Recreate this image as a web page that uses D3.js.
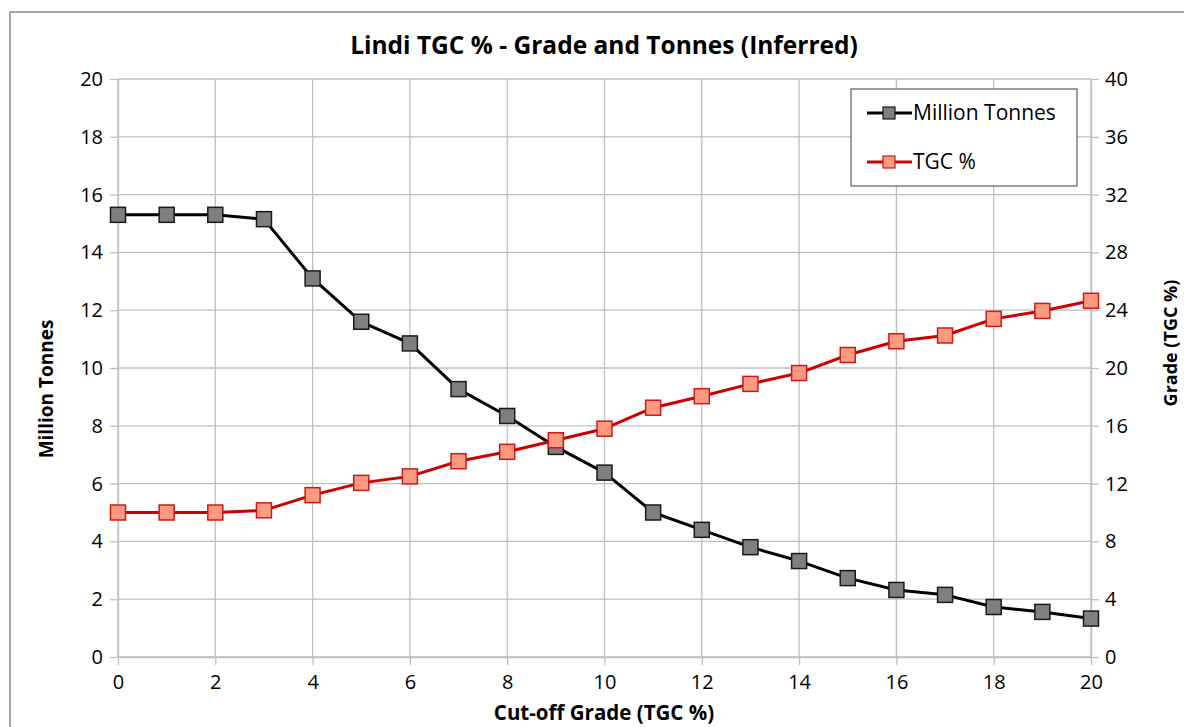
<!DOCTYPE html>
<html>
<head>
<meta charset="utf-8">
<script src="https://cdn.jsdelivr.net/npm/d3@7"></script>
<style>
  body { margin: 0; background: #fff; }
  text { font-family: "Open Sans", sans-serif; fill: #000; }
</style>
</head>
<body>
<script>
var w = 1184;
var h = 727;

// cut-off grade steps
var cutoffs = [0, 1, 2, 3, 4, 5, 6, 7, 8, 9, 10, 11, 12, 13, 14, 15, 16, 17, 18, 19, 20];
var millionTonnes = [15.3, 15.3, 15.3, 15.15, 13.1, 11.6, 10.85, 9.27, 8.34, 7.27, 6.38,
                     5.0, 4.4, 3.8, 3.32, 2.73, 2.32, 2.15, 1.73, 1.56, 1.33];
var gradeTGC = [10.0, 10.0, 10.0, 10.15, 11.2, 12.05, 12.5, 13.55, 14.2, 15.0, 15.8,
                17.25, 18.05, 18.9, 19.65, 20.9, 21.85, 22.25, 23.4, 23.95, 24.65];
var xTicks = [0, 2, 4, 6, 8, 10, 12, 14, 16, 18, 20];
var leftTicks = [0, 2, 4, 6, 8, 10, 12, 14, 16, 18, 20];
var rightTicks = [0, 4, 8, 12, 16, 20, 24, 28, 32, 36, 40];

var plotL = 118, plotR = 1091, plotT = 79, plotB = 657;

var svg = d3.select("body").append("svg")
    .attr("width", w)
    .attr("height", h);

// chart frame (cropped at right and bottom in the original)
svg.append("rect")
    .attr("x", 10).attr("y", 12)
    .attr("width", 1200).attr("height", 800)
    .attr("fill", "none")
    .attr("stroke", "#888")
    .attr("stroke-width", 1.5);

var x = d3.scaleLinear().domain([0, 20]).range([plotL, plotR]);
var yL = d3.scaleLinear().domain([0, 20]).range([plotB, plotT]);
var yR = d3.scaleLinear().domain([0, 40]).range([plotB, plotT]);

// gridlines
svg.append("g").selectAll("line")
    .data(xTicks).enter().append("line")
    .attr("x1", function(d){ return x(d); }).attr("x2", function(d){ return x(d); })
    .attr("y1", plotT).attr("y2", plotB)
    .attr("stroke", "#bfbfbf").attr("stroke-width", 1.3);
svg.append("g").selectAll("line")
    .data(leftTicks).enter().append("line")
    .attr("y1", function(d){ return yL(d); }).attr("y2", function(d){ return yL(d); })
    .attr("x1", plotL).attr("x2", plotR)
    .attr("stroke", "#bfbfbf").attr("stroke-width", 1.3);

function styleAxis(g) {
  g.select(".domain").attr("stroke", "#bfbfbf").attr("stroke-width", 1.3);
  g.selectAll(".tick line").attr("stroke", "#bfbfbf").attr("stroke-width", 1.3);
  g.selectAll(".tick text").style("font-size", "20px").attr("fill", "#1a1a1a");
}

svg.append("g")
    .attr("transform", "translate(0," + plotB + ")")
    .call(d3.axisBottom(x).tickValues(xTicks).tickSize(8).tickSizeOuter(0).tickPadding(10))
    .call(styleAxis);
svg.append("g")
    .attr("transform", "translate(" + plotL + ",0)")
    .call(d3.axisLeft(yL).tickValues(leftTicks).tickSize(8).tickSizeOuter(0).tickPadding(7))
    .call(styleAxis);
svg.append("g")
    .attr("transform", "translate(" + plotR + ",0)")
    .call(d3.axisRight(yR).tickValues(rightTicks).tickSize(8).tickSizeOuter(0).tickPadding(6))
    .call(styleAxis);

// series
function drawSeries(vals, yScale, lineColor, fill, stroke) {
  var line = d3.line()
      .x(function(d, i){ return x(cutoffs[i]); })
      .y(function(d){ return yScale(d); });
  svg.append("path")
      .datum(vals)
      .attr("d", line)
      .attr("fill", "none")
      .attr("stroke", lineColor)
      .attr("stroke-width", 3)
      .attr("stroke-linejoin", "round");
  svg.append("g").selectAll("rect")
      .data(vals).enter().append("rect")
      .attr("x", function(d, i){ return x(cutoffs[i]) - 7.5; })
      .attr("y", function(d){ return yScale(d) - 7.5; })
      .attr("width", 15).attr("height", 15)
      .attr("fill", fill)
      .attr("stroke", stroke)
      .attr("stroke-width", 1.5);
}
drawSeries(millionTonnes, yL, "#000", "#7f7f7f", "#1a1a1a");
drawSeries(gradeTGC, yR, "#cc0000", "#ff9a80", "#cc1a1a");

// title and axis titles
svg.append("text")
    .attr("x", 604).attr("y", 54)
    .attr("text-anchor", "middle")
    .style("font-size", "24.5px").style("font-weight", "bold")
    .text("Lindi TGC % - Grade and Tonnes (Inferred)");
svg.append("text")
    .attr("transform", "translate(53,389) rotate(-90)")
    .attr("text-anchor", "middle")
    .style("font-size", "19px").style("font-weight", "bold")
    .text("Million Tonnes");
svg.append("text")
    .attr("transform", "translate(1177,343) rotate(-90)")
    .attr("text-anchor", "middle")
    .style("font-size", "18px").style("font-weight", "bold")
    .text("Grade (TGC %)");
svg.append("text")
    .attr("x", 604).attr("y", 720)
    .attr("text-anchor", "middle")
    .style("font-size", "20.5px").style("font-weight", "bold")
    .text("Cut-off Grade (TGC %)");

// legend
var legend = svg.append("g");
legend.append("rect")
    .attr("x", 851).attr("y", 89)
    .attr("width", 226).attr("height", 97)
    .attr("fill", "#fff")
    .attr("stroke", "#404040").attr("stroke-width", 1);
var legendItems = [
  {name: "Million Tonnes", line: "#000", fill: "#7f7f7f", stroke: "#1a1a1a", y: 113},
  {name: "TGC %", line: "#cc0000", fill: "#ff9a80", stroke: "#cc1a1a", y: 162}
];
var li = legend.selectAll("g.item").data(legendItems).enter().append("g");
li.append("line")
    .attr("x1", 867).attr("x2", 912)
    .attr("y1", function(d){ return d.y; }).attr("y2", function(d){ return d.y; })
    .attr("stroke", function(d){ return d.line; })
    .attr("stroke-width", 3);
li.append("rect")
    .attr("x", 883).attr("y", function(d){ return d.y - 6; })
    .attr("width", 12).attr("height", 12)
    .attr("fill", function(d){ return d.fill; })
    .attr("stroke", function(d){ return d.stroke; })
    .attr("stroke-width", 1.2);
li.append("text")
    .attr("x", 913).attr("y", function(d){ return d.y + 7; })
    .style("font-size", "21px")
    .text(function(d){ return d.name; });
</script>
</body>
</html>
